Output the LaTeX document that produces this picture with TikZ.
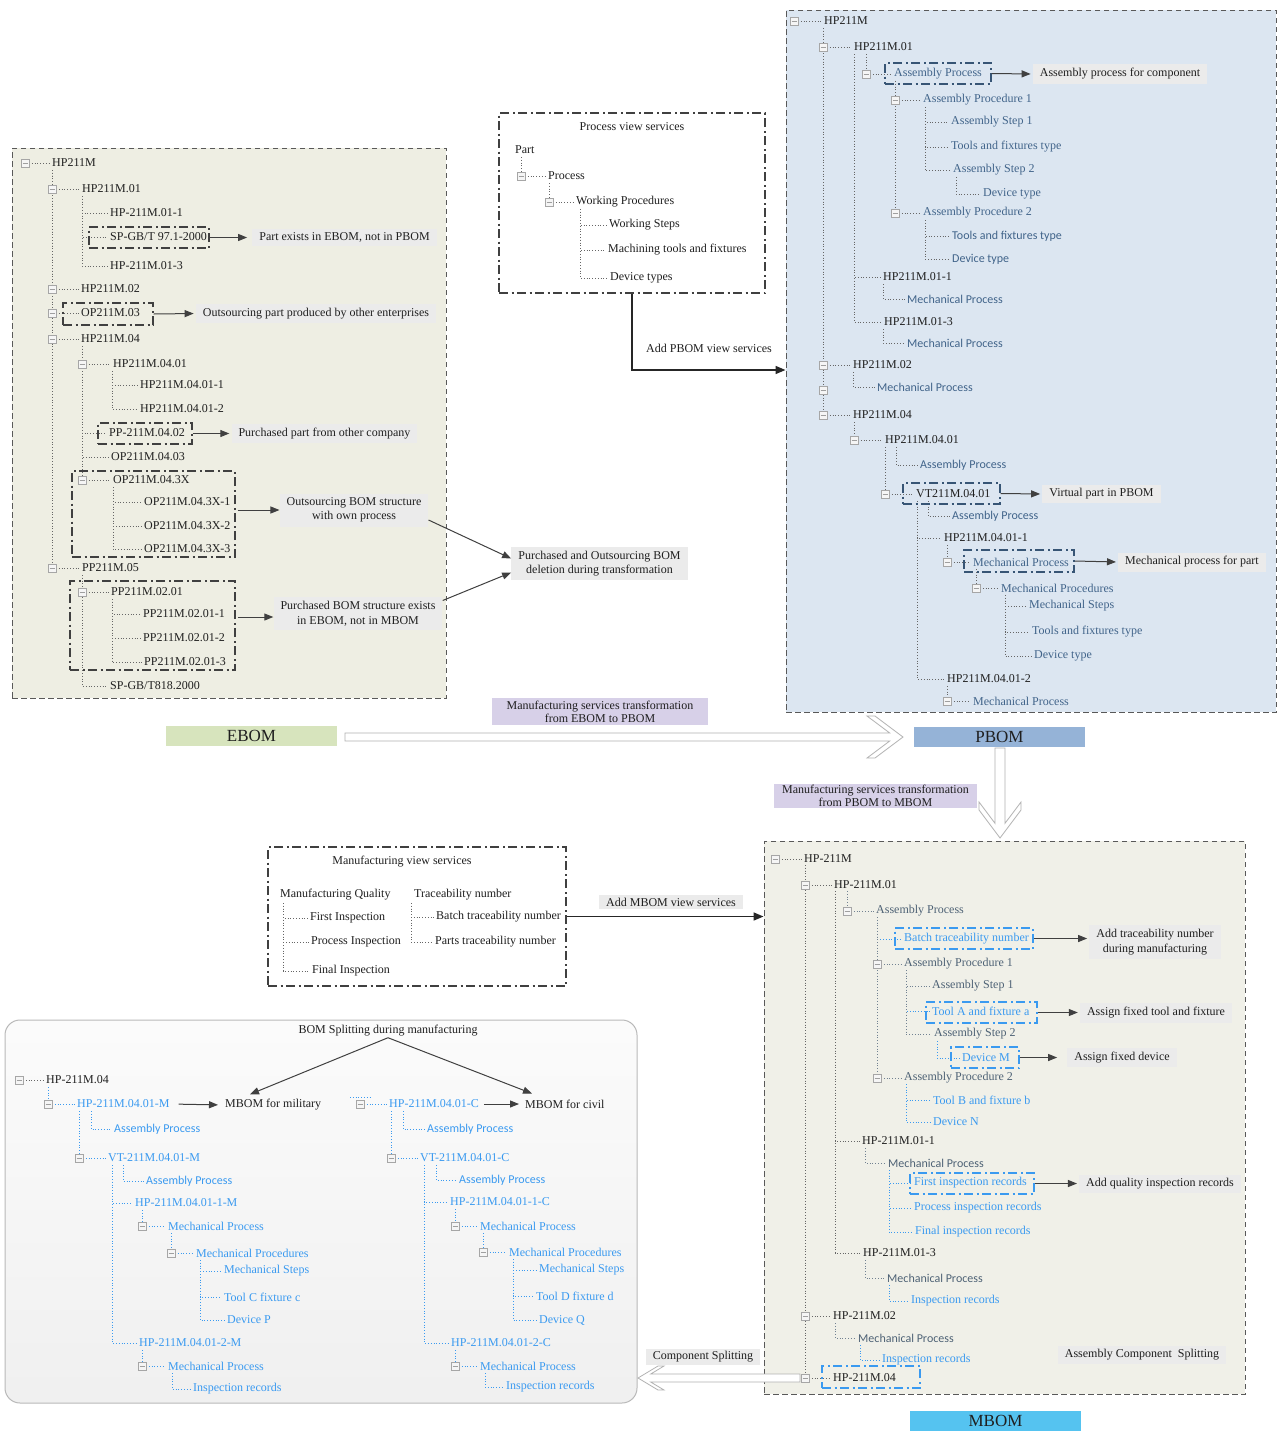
\documentclass[tikz,border=0pt]{standalone}
\usepackage{fontspec}
\setmainfont{Liberation Serif}
\newfontfamily\carlito{Carlito}
\usetikzlibrary{arrows.meta,fit,calc}
\pgfdeclarelayer{fg}
\pgfsetlayers{main,fg}
\definecolor{ebg}{HTML}{EEEEE3}
\definecolor{pbg}{HTML}{DCE6F1}
\definecolor{mbg}{HTML}{F0F0E8}
\definecolor{labg}{HTML}{EBEBEB}
\definecolor{purp}{HTML}{D7D0E8}
\definecolor{egreen}{HTML}{D7E4BD}
\definecolor{pblue}{HTML}{95B3D7}
\definecolor{mcyan}{HTML}{55C3F0}
\definecolor{pbtext}{HTML}{41648A}
\definecolor{mgtext}{HTML}{4E6275}
\definecolor{bbtext}{HTML}{3A9AF0}
\definecolor{dk}{HTML}{404040}
\newcommand\fsz{\fontsize{12}{14}\selectfont}
\newcommand\setsty[2]{\tikzset{cur/.style={#1},curl/.style={draw=#2}}}
\newcommand\exb[2]{\begin{pgfonlayer}{fg}\draw[exbox] (#1-4,#2-4) rectangle (#1+4,#2+4);\draw[gray!75,line width=0.6pt] (#1-2.5,#2) -- (#1+2.5,#2);\end{pgfonlayer}}
% item without expander: name, vx, parent y, y, text x, text
\newcommand\ti[6]{\node[cur,anchor=west] (#1) at (#5,#4) {#6};\draw[tdot,curl] (#2,#3) |- (#1.west);}
% item with expander box on the parent line
\newcommand\tb[6]{\node[cur,anchor=west] (#1) at (#5,#4) {#6};\draw[tdot,curl] (#2,#3) -- (#2,#4);\draw[tdot,curl] (#2+4,#4) -- (#1.west);\exb{#2}{#4}}
% root item: name, box x, y, text x, text
\newcommand\troot[5]{\node[cur,anchor=west] (#1) at (#4,#3) {#5};\draw[tdot,curl] (#2+4,#3) -- (#1.west);\exb{#2}{#3}}
\newcommand\db[6]{\node[#6,fit={(#2,#3) (#4,#5)},inner sep=0pt] (#1) {};}
\begin{document}
\begin{tikzpicture}[x=1pt,y=-1pt,
 every node/.append style={font=\fsz, inner sep=1pt},
 tk/.style={text=black!88},
 tpr/.style={text=pbtext},
 tps/.style={text=pbtext,font=\carlito\fsz},
 tmr/.style={text=mgtext},
 tms/.style={text=mgtext,font=\carlito\fsz},
 tbr/.style={text=bbtext},
 tbs/.style={text=bbtext,font=\carlito\fsz},
 tdot/.style={line width=0.9pt, dash pattern=on 0.9pt off 1.9pt, shorten >=1.5pt},
 exbox/.style={draw=gray!70, fill=gray!8, line width=0.6pt},
 ddk/.style={draw=dk, line width=1.2pt, dash pattern=on 9pt off 3.5pt on 2pt off 3.5pt},
 ddp/.style={ddk, draw=pbtext!85!black},
 ddc/.style={ddk, draw=bbtext},
 panel/.style={draw=gray!70!black, line width=1pt, dash pattern=on 5.5pt off 3.5pt},
 lab/.style={fill=labg, inner xsep=7pt, inner ysep=4pt, align=center, font=\fontsize{12}{14.5}\selectfont, text=black!88},
 plab/.style={fill=purp, inner xsep=15pt, inner ysep=3pt, align=center, font=\fontsize{12}{13}\selectfont, text=black!88},
 arr/.style={draw=dk, line width=1pt, -{Triangle[length=9pt,width=7pt]}},
 tarr/.style={draw=black!85, line width=1.6pt, -{Triangle[length=10pt,width=8pt]}},
 big/.style={font=\fontsize{17}{18}\selectfont, minimum width=171pt, minimum height=20pt, inner sep=0pt, text=black!88},
 hollow/.style={draw=gray!60, fill=white, line width=0.8pt, line join=miter},
]
\useasboundingbox (0,0) rectangle (1277,1433);
\fill[white] (0,0) rectangle (1277,1433);

% ---------- panels ----------
\node[panel, fill=ebg, fit={(12,148) (446,698)}, inner sep=0pt] (ebom) {};
\node[panel, fill=pbg, fit={(786,10) (1276,712)}, inner sep=0pt] (pbom) {};
\node[panel, fill=mbg, fit={(764,841) (1245,1394)}, inner sep=0pt] (mbom) {};
\node[ddk, fit={(499,113) (765,293)}, inner sep=0pt] (pv) {};
\node[ddk, fit={(268,847) (566,986)}, inner sep=0pt] (mv) {};
\node[draw=gray!55, line width=1pt, rounded corners=15pt, top color=gray!3, bottom color=gray!12, fit={(5,1020) (637,1403)}, inner sep=0pt] (split) {};

% ---------- EBOM tree ----------
\setsty{tk}{black!60}
\troot{e0}{25}{163}{51}{HP211M}
\tb{e1}{52}{170}{189}{81}{HP211M.01}
\ti{e11}{82}{196}{213}{109}{HP-211M.01-1}
\ti{e12}{82}{196}{237}{109}{SP-GB/T 97.1-2000}
\ti{e13}{82}{196}{266}{109}{HP-211M.01-3}
\tb{e2}{52}{170}{289}{80}{HP211M.02}
\tb{e3}{52}{170}{313}{80}{OP211M.03}
\tb{e4}{52}{170}{339}{80}{HP211M.04}
\tb{e41}{82}{346}{364}{112}{HP211M.04.01}
\ti{e411}{112}{371}{385}{139}{HP211M.04.01-1}
\ti{e412}{112}{371}{409}{139}{HP211M.04.01-2}
\ti{e42}{82}{346}{433}{108}{PP-211M.04.02}
\ti{e43}{82}{346}{457}{110}{OP211M.04.03}
\tb{e44}{82}{346}{480}{112}{OP211M.04.3X}
\ti{e441}{113}{487}{502}{143}{OP211M.04.3X-1}
\ti{e442}{113}{487}{526}{143}{OP211M.04.3X-2}
\ti{e443}{113}{487}{549}{143}{OP211M.04.3X-3}
\tb{e5}{52}{170}{568}{81}{PP211M.05}
\tb{e51}{82}{575}{592}{110}{PP211M.02.01}
\ti{e511}{112}{599}{614}{142}{PP211M.02.01-1}
\ti{e512}{112}{599}{638}{142}{PP211M.02.01-2}
\ti{e513}{112}{599}{662}{143}{PP211M.02.01-3}
\ti{e52}{82}{575}{686}{109}{SP-GB/T818.2000}

\db{d1}{89}{227}{209}{248}{ddk}
\db{d2}{63}{303}{153}{325}{ddk}
\db{d3}{98}{423}{192}{444}{ddk}
\db{d4}{72}{471}{235}{557}{ddk}
\db{d5}{70}{581}{235}{670}{ddk}

\node[lab] (l1) at (344.5,237.5) {Part exists in EBOM, not in PBOM};
\node[lab] (l2) at (316,313.5) {Outsourcing part produced by other enterprises};
\node[lab] (l3) at (324.5,433.5) {Purchased part from other company};
\node[lab] (l4) at (354,510) {Outsourcing BOM structure\\with own process};
\node[lab] (l5) at (358,613.5) {Purchased BOM structure exists\\in EBOM, not in MBOM};
\node[lab] (del) at (599.5,563.5) {Purchased and Outsourcing BOM\\deletion during transformation};
\draw[arr, shorten >=5pt] (d1.east) -- (l1.west);
\draw[arr, shorten >=2pt] (d2.east) -- (l2.west);
\draw[arr, shorten >=2pt] (d3.east) -- (l3.west);
\draw[arr] ([xshift=2pt]d4.east |- l4.west) -- (l4.west);
\draw[arr] ([xshift=2pt,yshift=-3.5pt]d5.east |- l5.west) -- ([yshift=-3.5pt]l5.west);
\draw[arr] ([yshift=-10pt]l4.east) -- ([yshift=5pt]del.west);
\draw[arr] ([yshift=13pt]l5.east) -- ([yshift=-9pt]del.west);

% ---------- Process view services ----------
\node[tk] (pvt) at (632,127) {Process view services};
\setsty{tk}{black!60}
\node[tk,anchor=west] (pvpart) at (514,150) {Part};
\tb{pvproc}{521}{157}{176}{547}{Process}
\tb{pvwp}{549}{183}{202}{575}{Working Procedures}
\ti{pvws}{580}{209}{225}{608}{Working Steps}
\ti{pvmt}{580}{209}{250}{607}{Machining tools and fixtures}
\ti{pvdt}{580}{209}{278}{609}{Device types}
\draw[tarr] (pv.south) |- ([yshift=-9pt]pbom.west);
\node[tk] (addp) at (709,348) {Add PBOM view services};

% ---------- PBOM tree ----------
\setsty{tk}{black!60}
\troot{p0}{794}{21}{823}{HP211M}
\tb{p1}{823}{28}{47}{853}{HP211M.01}
\setsty{tpr}{black!60}
\tb{p11}{866}{54}{74}{893}{Assembly Process}
\tb{p111}{895}{81}{100}{922}{Assembly Procedure 1}
\ti{p1111}{925}{107}{122}{950}{Assembly Step 1}
\ti{p1112}{925}{107}{147}{950}{Tools and fixtures type}
\ti{p1113}{925}{107}{170}{952}{Assembly Step 2}
\ti{p11131}{956}{177}{194}{982}{Device type}
\tb{p112}{895}{81}{213}{922}{Assembly Procedure 2}
\setsty{tps}{black!60}
\ti{p1121}{925}{220}{236}{951}{Tools and fixtures type}
\ti{p1122}{925}{220}{259}{951}{Device type}
\setsty{tk}{black!60}
\ti{p12}{854}{54}{277}{882}{HP211M.01-1}
\setsty{tps}{black!60}
\ti{p121}{883}{284}{299}{906}{Mechanical Process}
\setsty{tk}{black!60}
\ti{p13}{854}{54}{322}{883}{HP211M.01-3}
\setsty{tps}{black!60}
\ti{p131}{883}{329}{343}{906}{Mechanical Process}
\setsty{tk}{black!60}
\tb{p2}{823}{28}{365}{852}{HP211M.02}
\setsty{tps}{black!60}
\ti{p21}{853}{372}{387}{876}{Mechanical Process}
\setsty{tk}{black!60}
\tb{p4}{823}{28}{415}{852}{HP211M.04}
\exb{823}{390}
\tb{p41}{854}{422}{440}{884}{HP211M.04.01}
\setsty{tps}{black!60}
\ti{p411}{896}{447}{465}{919}{Assembly Process}
\setsty{tk}{black!60}
\tb{p412}{885}{447}{494}{915}{VT211M.04.01}
\setsty{tps}{black!60}
\ti{p4121}{928}{501}{516}{951}{Assembly Process}
\setsty{tk}{black!60}
\ti{p4122}{917}{501}{538}{943}{HP211M.04.01-1}
\setsty{tpr}{black!60}
\tb{p41221}{947}{545}{562}{972}{Mechanical Process}
\tb{p412211}{976}{569}{588}{1000}{Mechanical Procedures}
\ti{p4122111}{1005}{595}{606}{1028}{Mechanical Steps}
\ti{p4122112}{1005}{595}{632}{1031}{Tools and fixtures type}
\ti{p4122113}{1005}{595}{656}{1033}{Device type}
\setsty{tk}{black!60}
\ti{p4123}{917}{501}{679}{946}{HP211M.04.01-2}
\setsty{tpr}{black!60}
\tb{p41231}{947}{686}{701}{972}{Mechanical Process}

\db{d6}{885}{63}{991}{84}{ddp}
\db{d7}{903}{483}{1000}{504}{ddp}
\db{d8}{964}{550}{1074}{572}{ddp}
\node[lab] (a1) at (1120,74) {Assembly process for component};
\node[lab] (a2) at (1101.5,494) {Virtual part in PBOM};
\node[lab] (a3) at (1192,562) {Mechanical process for part};
\draw[arr, shorten >=2pt] (d6.east) -- (a1.west);
\draw[arr, shorten >=2pt] (d7.east) -- (a2.west);
\draw[arr, shorten >=2pt] (d8.east) -- (a3.west);

% ---------- central labels and transformation arrows ----------
\node[big, fill=egreen] (elab) at (251.5,736) {EBOM};
\node[big, fill=pblue] (plab) at (999.5,737) {PBOM};
\node[big, fill=mcyan] (mlab) at (995.5,1421) {MBOM};
\filldraw[hollow] (345,733) -- (889.7,733) -- (867,716) -- (875,716) -- (903,737) -- (875,758) -- (867,758) -- (889.7,741) -- (345,741) -- cycle;
\filldraw[hollow] (995,748) -- (995,823.3) -- (979,802) -- (979,810) -- (1000,838) -- (1021,810) -- (1021,802) -- (1005,823.3) -- (1005,748) -- cycle;
\node[plab] (t1) at (600,711.5) {Manufacturing services transformation\\from EBOM to PBOM};
\node[plab, inner xsep=8pt, inner ysep=1pt] (t2) at (875.5,796) {Manufacturing services transformation\\from PBOM to MBOM};

% ---------- Manufacturing view services ----------
\node[tk] (mvt0) at (402,862) {Manufacturing view services};
\setsty{tk}{black!60}
\node[tk,anchor=west] (mvq) at (279,895) {Manufacturing Quality};
\ti{mvfi}{283}{903}{918}{309}{First Inspection}
\ti{mvpi}{283}{903}{942}{310}{Process Inspection}
\ti{mvfn}{283}{903}{971}{311}{Final Inspection}
\node[tk,anchor=west] (mvtr) at (413,895) {Traceability number};
\ti{mvbt}{411}{903}{917}{435}{Batch traceability number}
\ti{mvpt}{411}{903}{942}{434}{Parts traceability number}
\draw[tarr] (mv.east) -- (mv.east -| mbom.west);
\node[lab, inner ysep=3pt] (addm) at (671,902) {Add MBOM view services};

% ---------- Component splitting arrow ----------
\filldraw[hollow] (800,1374) -- (650.7,1374) -- (664,1366) -- (658,1366) -- (638,1378) -- (658,1390) -- (664,1390) -- (650.7,1382) -- (800,1382) -- cycle;
\node[lab, inner ysep=3pt] (csp) at (703,1357) {Component Splitting};

% ---------- MBOM tree ----------
\setsty{tk}{black!60}
\troot{m0}{775}{859}{803}{HP-211M}
\tb{m1}{805}{865}{885}{833}{HP-211M.01}
\setsty{tmr}{mgtext!80}
\tb{m11}{847}{891}{911}{875}{Assembly Process}
\setsty{tbr}{bbtext}
\ti{m111}{877}{917}{939}{903}{Batch traceability number}
\setsty{tmr}{mgtext!80}
\tb{m112}{877}{917}{964}{903}{Assembly Procedure 1}
\ti{m1121}{906}{970}{986}{931}{Assembly Step 1}
\setsty{tbr}{bbtext}
\ti{m1122}{906}{970}{1011}{931}{Tool A and fixture a}
\setsty{tmr}{mgtext!80}
\ti{m1123}{906}{970}{1034}{933}{Assembly Step 2}
\setsty{tbr}{bbtext}
\ti{m11231}{937}{1041}{1058}{961}{Device M}
\setsty{tmr}{mgtext!80}
\tb{m113}{877}{917}{1078}{903}{Assembly Procedure 2}
\setsty{tbr}{bbtext}
\ti{m1131}{906}{1084}{1100}{932}{Tool B and fixture b}
\ti{m1132}{906}{1084}{1122}{932}{Device N}
\setsty{tk}{black!60}
\ti{m12}{835}{891}{1141}{861}{HP-211M.01-1}
\setsty{tms}{mgtext!80}
\ti{m121}{865}{1148}{1163}{887}{Mechanical Process}
\setsty{tbr}{bbtext}
\ti{m1211}{889}{1170}{1183}{913}{First inspection records}
\ti{m1212}{889}{1170}{1208}{913}{Process inspection records}
\ti{m1213}{889}{1170}{1232}{914}{Final inspection records}
\setsty{tk}{black!60}
\ti{m13}{835}{891}{1253}{862}{HP-211M.01-3}
\setsty{tms}{mgtext!80}
\ti{m131}{865}{1260}{1278}{886}{Mechanical Process}
\setsty{tbr}{bbtext}
\ti{m1311}{889}{1285}{1301}{910}{Inspection records}
\setsty{tk}{black!60}
\tb{m2}{805}{865}{1316}{832}{HP-211M.02}
\setsty{tms}{mgtext!80}
\ti{m21}{835}{1323}{1338}{857}{Mechanical Process}
\setsty{tbr}{bbtext}
\ti{m211}{860}{1345}{1360}{881}{Inspection records}
\setsty{tk}{black!60}
\tb{m4}{805}{865}{1378}{832}{HP-211M.04}

\db{d9}{895}{928}{1033}{949}{ddc}
\db{d10}{926}{1002}{1037}{1023}{ddc}
\db{d11}{951}{1047}{1019}{1068}{ddc}
\db{d12}{910}{1173}{1034}{1194}{ddc}
\db{d13}{822}{1366}{920}{1388}{ddc}
\node[lab] (b1) at (1155,942) {Add traceability number\\during manufacturing};
\node[lab] (b2) at (1156,1013) {Assign fixed tool and fixture};
\node[lab] (b3) at (1122,1057.5) {Assign fixed device};
\node[lab] (b4) at (1160,1184) {Add quality inspection records};
\node[lab] (b5) at (1142,1355) {Assembly Component~ Splitting};
\draw[arr, shorten >=2pt] (d9.east) -- (d9.east -| b1.west);
\draw[arr, shorten >=2pt] (d10.east) -- (d10.east -| b2.west);
\draw[arr, shorten >=10pt] (d11.east) -- (d11.east -| b3.west);
\draw[arr, shorten >=2pt] (d12.east) -- (d12.east -| b4.west);

% ---------- BOM splitting ----------
\node[tk] (stitle) at (388,1031) {BOM Splitting during manufacturing};
\setsty{tk}{black!60}
\troot{s0}{19}{1080}{45}{HP-211M.04}
\setsty{tbr}{bbtext}
\tb{sm}{48}{1087}{1104}{76}{HP-211M.04.01-M}
\setsty{tbs}{bbtext}
\ti{sm1}{91}{1111}{1129}{113}{Assembly Process}
\setsty{tbr}{bbtext}
\tb{sm2}{79}{1111}{1158}{107}{VT-211M.04.01-M}
\setsty{tbs}{bbtext}
\ti{sm21}{123}{1165}{1181}{145}{Assembly Process}
\setsty{tbr}{bbtext}
\ti{sm22}{112}{1165}{1203}{134}{HP-211M.04.01-1-M}
\tb{sm221}{142}{1210}{1226}{167}{Mechanical Process}
\tb{sm2211}{171}{1233}{1253}{195}{Mechanical Procedures}
\ti{sm22111}{200}{1260}{1271}{223}{Mechanical Steps}
\ti{sm22112}{200}{1260}{1297}{223}{Tool C fixture c}
\ti{sm22113}{200}{1260}{1320}{226}{Device P}
\ti{sm23}{112}{1165}{1343}{138}{HP-211M.04.01-2-M}
\tb{sm231}{142}{1350}{1366}{167}{Mechanical Process}
\ti{sm2311}{172}{1373}{1389}{192}{Inspection records}

\draw[tdot,draw=bbtext,shorten >=0pt] (350,1097) -- (370,1097);
\troot{sc}{360}{1104}{388}{HP-211M.04.01-C}
\setsty{tbs}{bbtext}
\ti{sc1}{403}{1111}{1129}{426}{Assembly Process}
\setsty{tbr}{bbtext}
\tb{sc2}{391}{1111}{1158}{419}{VT-211M.04.01-C}
\setsty{tbs}{bbtext}
\ti{sc21}{436}{1165}{1180}{458}{Assembly Process}
\setsty{tbr}{bbtext}
\ti{sc22}{424}{1165}{1202}{449}{HP-211M.04.01-1-C}
\tb{sc221}{455}{1209}{1226}{479}{Mechanical Process}
\tb{sc2211}{483}{1233}{1252}{508}{Mechanical Procedures}
\ti{sc22111}{513}{1259}{1270}{538}{Mechanical Steps}
\ti{sc22112}{513}{1259}{1296}{535}{Tool D fixture d}
\ti{sc22113}{513}{1259}{1320}{538}{Device Q}
\ti{sc23}{424}{1165}{1343}{450}{HP-211M.04.01-2-C}
\tb{sc231}{455}{1350}{1366}{479}{Mechanical Process}
\ti{sc2311}{485}{1373}{1387}{505}{Inspection records}

\node[tk,anchor=west] (mil) at (224,1105) {MBOM for military};
\node[tk,anchor=west] (civ) at (524,1104) {MBOM for civil};
\draw[arr, shorten <=8pt, shorten >=6pt] (sm.east) -- (mil.west);
\draw[arr, shorten <=4pt, shorten >=5pt] (sc.east) -- (civ.west);
\draw[arr] (stitle.south) -- ([xshift=26pt,yshift=4pt]mil.north west);
\draw[arr] (stitle.south) -- ([xshift=8pt,yshift=5pt]civ.north west);
\end{tikzpicture}
\end{document}
